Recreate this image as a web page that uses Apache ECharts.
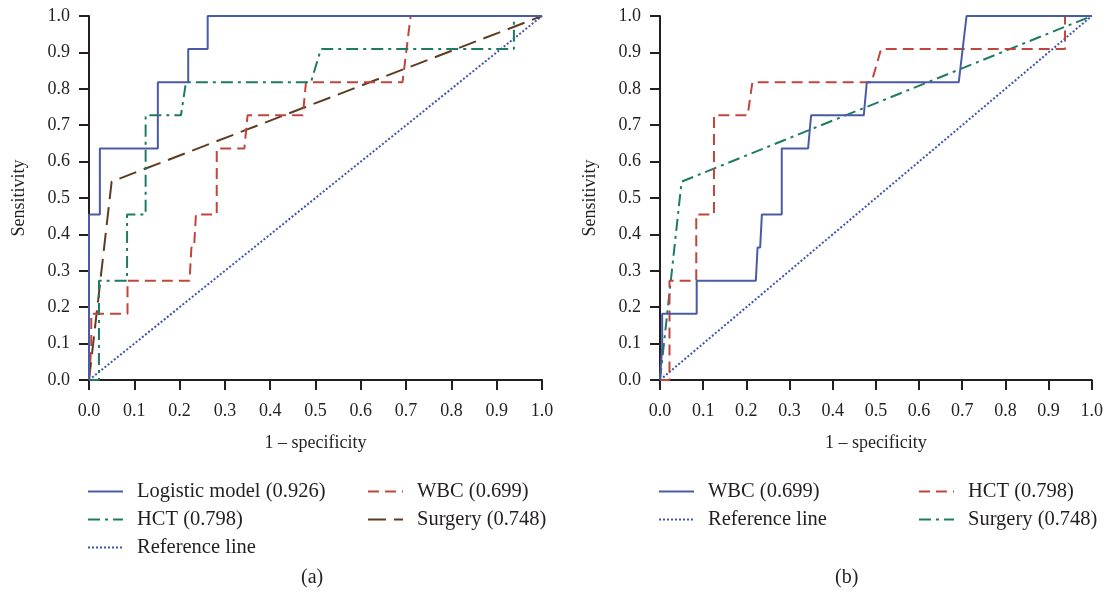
<!DOCTYPE html>
<html>
<head>
	<meta charset="utf-8">
	<title>ROC curves</title>
	<script src="https://cdn.jsdelivr.net/npm/echarts@6/dist/echarts.min.js"></script>
	<style>
		html, body { margin: 0; padding: 0; background: #fff; }
		#chart { width: 1106px; height: 594px; }
	</style>
</head>
<body>
<div id="chart"></div>
<script>
// ROC 曲线数据: [1 - specificity, sensitivity]
var logisticPts = [[0, 0], [0, 0.455], [0.024, 0.455], [0.024, 0.636], [0.152, 0.636], [0.152, 0.818],
	[0.219, 0.818], [0.219, 0.909], [0.262, 0.909], [0.262, 1], [1, 1]];
var wbcPts = [[0, 0], [0.005, 0.091], [0.005, 0.182], [0.085, 0.182], [0.085, 0.273], [0.222, 0.273],
	[0.226, 0.364], [0.232, 0.364], [0.236, 0.455], [0.282, 0.455], [0.282, 0.636], [0.343, 0.636],
	[0.35, 0.727], [0.472, 0.727], [0.479, 0.818], [0.692, 0.818], [0.71, 1], [1, 1]];
var hctPts = [[0, 0], [0.022, 0], [0.022, 0.273], [0.084, 0.273], [0.084, 0.455], [0.125, 0.455],
	[0.125, 0.727], [0.203, 0.727], [0.214, 0.818], [0.49, 0.818], [0.512, 0.909], [0.938, 0.909],
	[0.938, 1], [1, 1]];
var surgeryPts = [[0, 0], [0.05, 0.545], [1, 1]];
var refPts = [[0, 0], [1, 1]];
var axisTicks = [0, 0.1, 0.2, 0.3, 0.4, 0.5, 0.6, 0.7, 0.8, 0.9, 1];

var FONT = 'Liberation Serif';
var INK = '#231f20';
var C = { blue: '#4a5ba6', red: '#c0463c', green: '#1f7a64', brown: '#5e3c22', ref: '#3d55b0' };
var DASH = { solid: 'solid', dash: [11, 6], dashdot: [12, 5, 3, 5], longdash: [18, 8], dot: [2, 2] };

function xAx(idx) {
	return {
		type: 'value', gridIndex: idx, min: 0, max: 1, interval: 0.1, offset: 5,
		name: '1 – specificity', nameLocation: 'middle', nameGap: 49,
		nameTextStyle: { fontFamily: FONT, fontSize: 18, color: INK },
		axisLine: { lineStyle: { color: INK, width: 2 } },
		axisTick: { length: 10, lineStyle: { color: INK, width: 2 } },
		axisLabel: { margin: 17, fontFamily: FONT, fontSize: 18, color: INK, formatter: function (v) { return v.toFixed(1); } },
		splitLine: { show: false }
	};
}
function yAx(idx) {
	return {
		type: 'value', gridIndex: idx, min: 0, max: 1, interval: 0.1, offset: 3,
		name: 'Sensitivity', nameLocation: 'middle', nameGap: 58,
		nameTextStyle: { fontFamily: FONT, fontSize: 18, color: INK },
		axisLine: { show: true, lineStyle: { color: INK, width: 2 } },
		axisTick: { show: true, length: 10, lineStyle: { color: INK, width: 2 } },
		axisLabel: { margin: 16, fontFamily: FONT, fontSize: 18, color: INK, formatter: function (v) { return v.toFixed(1); } },
		splitLine: { show: false }
	};
}
function line(name, idx, data, color, dash) {
	return {
		name: name, type: 'line', xAxisIndex: idx, yAxisIndex: idx, data: data,
		symbol: 'none', animation: false, color: color,
		lineStyle: { color: color, width: 2, type: dash }
	};
}
function legend(left, names) {
	return {
		left: left, top: 481, padding: 0, orient: 'vertical', itemWidth: 35, itemHeight: 14, itemGap: 7,
		data: names,
		itemStyle: { opacity: 0, borderWidth: 0 },
		textStyle: { fontFamily: FONT, fontSize: 20.5, color: INK, padding: [0, 0, 0, 9] },
		formatter: function (n) { return n.split('#')[1]; },
		selectedMode: false
	};
}

var chart = echarts.init(document.getElementById('chart'));
chart.setOption({
	backgroundColor: '#fff',
	animation: false,
	grid: [
		{ left: 89, right: 564, top: 16, bottom: 214 },
		{ left: 660, right: 13, top: 16, bottom: 214 }
	],
	xAxis: [xAx(0), xAx(1)],
	yAxis: [yAx(0), yAx(1)],
	legend: [
		legend(87, ['a#Logistic model (0.926)', 'a#HCT (0.798)', 'a#Reference line']),
		legend(367, ['a#WBC (0.699)', 'a#Surgery (0.748)']),
		legend(658, ['b#WBC (0.699)', 'b#Reference line']),
		legend(918, ['b#HCT (0.798)', 'b#Surgery (0.748)'])
	],
	graphic: [
		{ type: 'text', left: 301, top: 568, style: { text: '(a)', font: '20px ' + FONT, fill: INK } },
		{ type: 'text', left: 835, top: 568, style: { text: '(b)', font: '20px ' + FONT, fill: INK } }
	],
	series: [
		line('a#Reference line', 0, refPts, C.ref, DASH.dot),
		line('a#Surgery (0.748)', 0, surgeryPts, C.brown, DASH.longdash),
		line('a#WBC (0.699)', 0, wbcPts, C.red, DASH.dash),
		line('a#HCT (0.798)', 0, hctPts, C.green, DASH.dashdot),
		line('a#Logistic model (0.926)', 0, logisticPts, C.blue, DASH.solid),
		line('b#Reference line', 1, refPts, C.ref, DASH.dot),
		line('b#Surgery (0.748)', 1, surgeryPts, C.green, DASH.dashdot),
		line('b#HCT (0.798)', 1, hctPts, C.red, DASH.dash),
		line('b#WBC (0.699)', 1, wbcPts, C.blue, DASH.solid)
	]
});
window.addEventListener('resize', function () { chart.resize(); });
</script>
</body>
</html>
